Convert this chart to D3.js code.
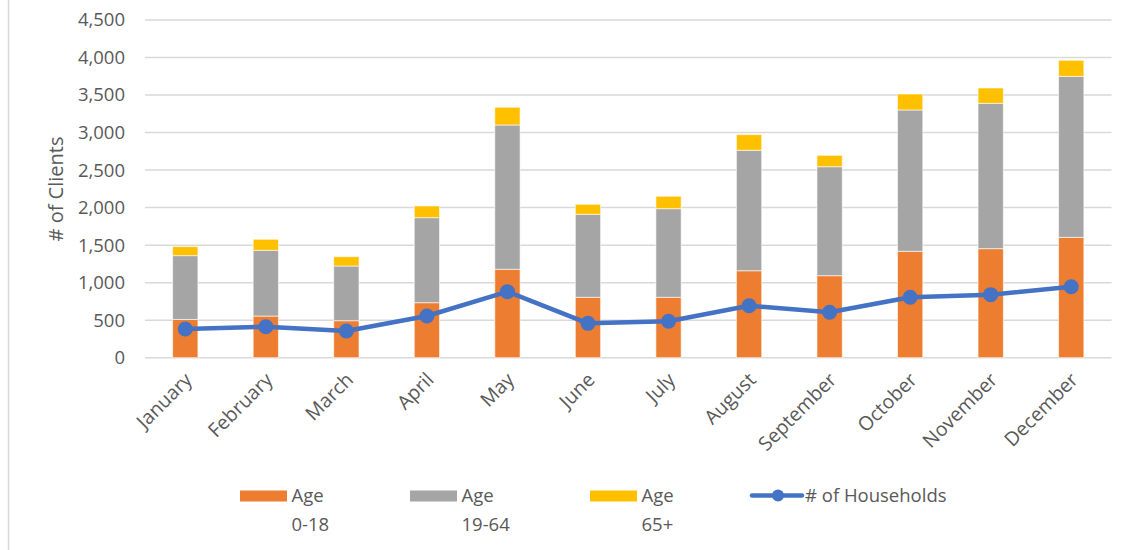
<!DOCTYPE html>
<html lang="en">
<head>
<meta charset="utf-8">
<title>Clients by Month</title>
<script src="https://cdn.jsdelivr.net/npm/d3@7"></script>
<style>
  body { margin: 0; background: #fff; }
  text { font-family: "Open Sans", "Liberation Sans", sans-serif; fill: #595959; }
</style>
</head>
<body>
<svg id="chart" width="1127" height="550"></svg>
<script>
// data
var months = ["January", "February", "March", "April", "May", "June", "July",
              "August", "September", "October", "November", "December"];
var age0to18  = [510, 555, 493, 733, 1178, 805, 805, 1159, 1093, 1418, 1453, 1604];
var age19to64 = [850, 876, 729, 1133, 1923, 1106, 1181, 1605, 1452, 1883, 1937, 2145];
var age65plus = [120, 147, 124, 156, 236, 133, 165, 208, 152, 213, 204, 214];
var households = [382, 413, 356, 556, 880, 458, 485, 693, 605, 805, 840, 946];
var yTicks = [0, 500, 1000, 1500, 2000, 2500, 3000, 3500, 4000, 4500];

var seriesNames = ["Age 0-18", "Age 19-64", "Age 65+"];
var colors = ["#ED7D31", "#A5A5A5", "#FFC000"];
var lineColor = "#4472C4";

var svg = d3.select("#chart");
var plotLeft = 145, plotRight = 1111.5, plotTop = 20, plotBottom = 357.7;

// frame edge on the left
svg.append("line").attr("x1", 8.5).attr("x2", 8.5).attr("y1", 0).attr("y2", 550)
   .attr("stroke", "#d9d9d9").attr("stroke-width", 1.5);

var x = d3.scaleBand().domain(months).range([plotLeft, plotRight]).paddingInner(0.686).paddingOuter(0.343);
var y = d3.scaleLinear().domain([0, 4500]).range([plotBottom, plotTop]);

// grid
svg.append("g").selectAll("line").data(yTicks).enter().append("line")
   .attr("x1", plotLeft).attr("x2", plotRight)
   .attr("y1", function(d) { return y(d); }).attr("y2", function(d) { return y(d); })
   .attr("stroke", "#d9d9d9").attr("stroke-width", 1.5);

// y axis labels
var yAxis = d3.axisLeft(y).tickValues(yTicks).tickFormat(d3.format(",")).tickSize(0).tickPadding(20);
var gy = svg.append("g").attr("transform", "translate(" + plotLeft + ",0)").call(yAxis);
gy.select(".domain").remove();
gy.selectAll("text").style("font-size", "18.5px").attr("fill", "#595959")
  .style("font-family", "'Open Sans', 'Liberation Sans', sans-serif");

svg.append("text").attr("transform", "translate(63,189) rotate(-90)")
   .attr("text-anchor", "middle").style("font-size", "20px").text("# of Clients");

// stacked bars
var rows = months.map(function(m, i) {
  return { month: m, a: age0to18[i], b: age19to64[i], c: age65plus[i] };
});
var stack = d3.stack().keys(["a", "b", "c"])(rows);

svg.append("g").selectAll("g").data(stack).enter().append("g")
   .attr("fill", function(d, i) { return colors[i]; })
   .selectAll("rect").data(function(d) { return d; }).enter().append("rect")
   .attr("x", function(d) { return x(d.data.month); })
   .attr("width", x.bandwidth())
   .attr("y", function(d) { return y(d[1]); })
   .attr("height", function(d) { return y(d[0]) - y(d[1]); })
   .attr("stroke", "#fff").attr("stroke-opacity", 0.6).attr("stroke-width", 1);

// x labels
svg.append("g").selectAll("text").data(months).enter().append("text")
   .attr("transform", function(d) {
     return "translate(" + (x(d) + x.bandwidth() / 2 + 8) + ",381) rotate(-45)";
   })
   .attr("text-anchor", "end").style("font-size", "19.5px").text(function(d) { return d; });

// households line
var line = d3.line()
   .x(function(d, i) { return x(months[i]) + x.bandwidth() / 2; })
   .y(function(d) { return y(d); });
svg.append("path").datum(households).attr("d", line)
   .attr("fill", "none").attr("stroke", lineColor).attr("stroke-width", 4.5)
   .attr("stroke-linejoin", "round");
svg.append("g").selectAll("circle").data(households).enter().append("circle")
   .attr("cx", function(d, i) { return x(months[i]) + x.bandwidth() / 2; })
   .attr("cy", function(d) { return y(d); })
   .attr("r", 7.5).attr("fill", lineColor);

// legend
var legX = [240, 410, 590];
var lg = svg.append("g");
seriesNames.forEach(function(name, i) {
  lg.append("rect").attr("x", legX[i]).attr("y", 490.5).attr("width", 47).attr("height", 11)
    .attr("fill", colors[i]);
  var t = lg.append("text").attr("x", legX[i] + 51.5).attr("y", 501.5).style("font-size", "18.5px");
  t.append("tspan").text("Age");
  t.append("tspan").attr("x", legX[i] + 51.5).attr("dy", 29).text(name.replace("Age ", ""));
});
lg.append("line").attr("x1", 752).attr("x2", 802).attr("y1", 495.5).attr("y2", 495.5)
  .attr("stroke", lineColor).attr("stroke-width", 4.5).attr("stroke-linecap", "round");
lg.append("circle").attr("cx", 778).attr("cy", 495.5).attr("r", 6).attr("fill", lineColor);
lg.append("text").attr("x", 805).attr("y", 501.5).style("font-size", "18.5px").text("# of Households");
</script>
</body>
</html>
